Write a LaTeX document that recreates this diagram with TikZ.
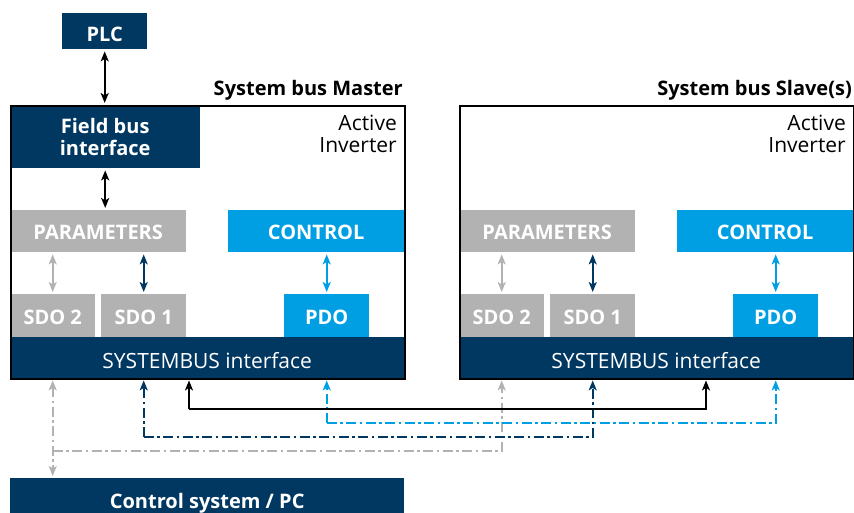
\documentclass[tikz,border=0pt]{standalone}
\usepackage{fontspec}
\setmainfont{Open Sans}
\usetikzlibrary{arrows.meta}
\definecolor{navy}{RGB}{0,56,98}
\definecolor{sky}{RGB}{0,159,227}
\definecolor{grayb}{RGB}{178,178,178}
\tikzset{
  blk/.style={inner sep=0pt, anchor=north west, text=white, align=center,
    font=\bfseries\fontsize{20}{22}\selectfont},
  one/.style={text height=17pt, text depth=0pt},
  reg/.style={font=\fontsize{21}{22}\selectfont},
  conn/.style={line width=1.8pt, shorten >=2pt, shorten <=2pt},
  bi/.style={conn, {Stealth[length=10pt,width=8pt,inset=2.5pt]}-{Stealth[length=10pt,width=8pt,inset=2.5pt]}},
  up/.style={conn, shorten <=0pt, -{Stealth[length=10pt,width=8pt,inset=2.5pt]}},
  dd/.style={dash pattern=on 10pt off 3.5pt on 2.5pt off 3.5pt},
}
\begin{document}
\begin{tikzpicture}[x=1pt,y=-1pt]
\useasboundingbox (0,0) rectangle (854,513);
\clip (0,0) rectangle (854,513);

% PLC
\node[blk, one, text height=20pt, fill=navy, minimum width=85pt, minimum height=36pt] (plc) at (62,13) {PLC};

% Master
\node[blk, fill=navy, minimum width=190pt, minimum height=63pt] (mfb) at (10,105) {Field bus\\interface};
\node[blk, one, fill=grayb, minimum width=176pt, minimum height=42pt] (mpar) at (10,210) {PARAMETERS};
\node[blk, one, fill=sky, minimum width=176pt, minimum height=42pt] (mctl) at (228,210) {CONTROL};
\node[blk, one, fill=grayb, minimum width=85pt, minimum height=43pt] (msdo2) at (10,294) {SDO 2};
\node[blk, one, fill=grayb, minimum width=85pt, minimum height=43pt] (msdo1) at (101,294) {SDO 1};
\node[blk, one, fill=sky, minimum width=85pt, minimum height=43pt] (mpdo) at (284,294) {PDO};
\node[blk, fill=navy, minimum width=394pt, minimum height=41pt, text height=22pt, text depth=0pt, font=\fontsize{21}{22}\selectfont] (msys) at (10,337) {SYSTEMBUS interface};
\node[draw=black, line width=1.6pt, inner sep=0pt, anchor=north west, minimum width=394pt, minimum height=273pt] (mframe) at (10,105) {};
\node[anchor=base east, inner sep=0pt, font=\bfseries\fontsize{20}{22}\selectfont] (mtitle) at (403,96) {System bus Master};
\node[reg, anchor=north east, inner sep=0pt, align=right] (mact) at (397,115) {Active\\Inverter};

% Slave
\node[blk, one, fill=grayb, minimum width=176pt, minimum height=42pt] (spar) at (459,210) {PARAMETERS};
\node[blk, one, fill=sky, minimum width=176pt, minimum height=42pt] (sctl) at (677,210) {CONTROL};
\node[blk, one, fill=grayb, minimum width=85pt, minimum height=43pt] (ssdo2) at (459,294) {SDO 2};
\node[blk, one, fill=grayb, minimum width=85pt, minimum height=43pt] (ssdo1) at (550,294) {SDO 1};
\node[blk, one, fill=sky, minimum width=85pt, minimum height=43pt] (spdo) at (733,294) {PDO};
\node[blk, fill=navy, minimum width=394pt, minimum height=41pt, text height=22pt, text depth=0pt, font=\fontsize{21}{22}\selectfont] (ssys) at (459,337) {SYSTEMBUS interface};
\node[draw=black, line width=1.6pt, inner sep=0pt, anchor=north west, minimum width=394pt, minimum height=273pt] (sframe) at (459,105) {};
\node[anchor=base east, inner sep=0pt, font=\bfseries\fontsize{20}{22}\selectfont] (stitle) at (852,96) {System bus Slave(s)};
\node[reg, anchor=north east, inner sep=0pt, align=right] (sact) at (846,115) {Active\\Inverter};

% Control system
\node[blk, one, fill=navy, minimum width=394pt, minimum height=44pt] (pc) at (10,478) {Control system / PC};

% vertical arrows inside
\draw[bi, black] (plc.south) -- (mframe.north -| plc.south);
\draw[bi, black] (mfb.south) -- (mpar.north -| mfb.south);
\draw[bi, grayb] (msdo2.north) -- (msdo2.north |- mpar.south);
\draw[bi, navy] (msdo1.north) -- (msdo1.north |- mpar.south);
\draw[bi, sky] (mpdo.north) -- (mpdo.north |- mctl.south);
\draw[bi, grayb] (ssdo2.north) -- (ssdo2.north |- spar.south);
\draw[bi, navy] (ssdo1.north) -- (ssdo1.north |- spar.south);
\draw[bi, sky] (spdo.north) -- (spdo.north |- sctl.south);

% bus connections
\coordinate (gy) at (0,451);
\coordinate (dy) at (0,437);
\coordinate (by) at (0,423);
\coordinate (ky) at (0,409);
\coordinate (kx1) at (189,0);
\coordinate (kx2) at (706,0);

\draw[bi, grayb, dd] (msys.south -| msdo2.north) -- (pc.north -| msdo2.north);
\draw[up, grayb, dd] (msdo2.north |- gy) -| (ssys.south -| ssdo2.north);
\draw[up, navy, dd] (msdo1.north |- dy) -| (ssys.south -| ssdo1.north);
\draw[up, navy, dd] (msdo1.north |- dy) -- (msys.south -| msdo1.north);
\draw[up, sky, dd] (mpdo.north |- by) -| (ssys.south -| spdo.north);
\draw[up, sky, dd] (mpdo.north |- by) -- (msys.south -| mpdo.north);
\draw[up, black] (kx1 |- ky) -| (ssys.south -| kx2);
\draw[up, black] (kx1 |- ky) -- (msys.south -| kx1);
\end{tikzpicture}
\end{document}
